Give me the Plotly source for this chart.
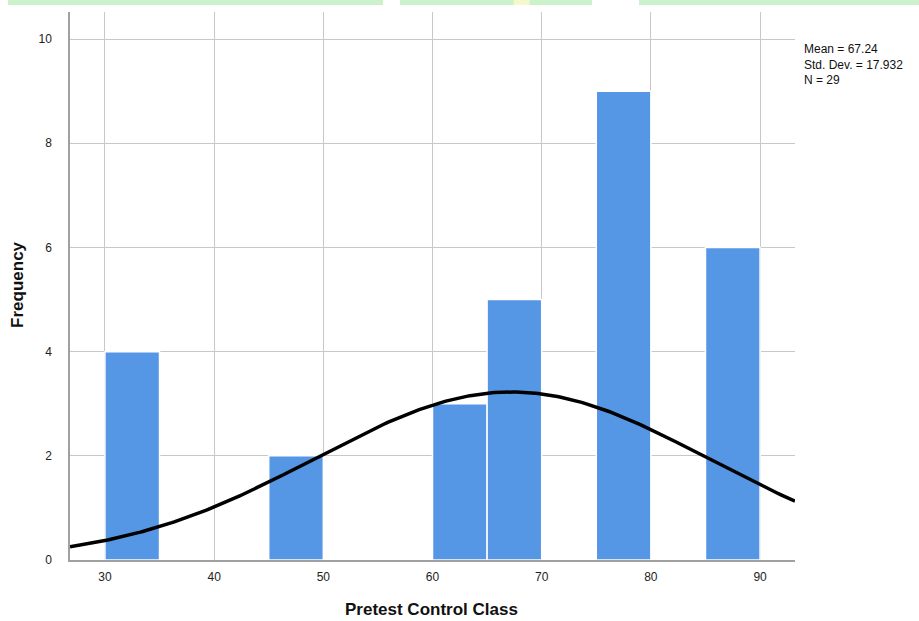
import numpy as np
import plotly.graph_objects as go

# Data
bin_starts = [30, 45, 60, 65, 75, 85]
counts = [4, 2, 3, 5, 9, 6]
bin_width = 5
mean_val = 67.24
sd_val = 17.932
n_val = 29
x_ticks = [30, 40, 50, 60, 70, 80, 90]
y_ticks = [0, 2, 4, 6, 8, 10]

centers = [s + bin_width / 2 for s in bin_starts]

# Normal curve implied by the displayed statistics
xs = np.linspace(26.8, 93.2, 300)
ys = n_val * bin_width / (sd_val * np.sqrt(2 * np.pi)) * np.exp(-0.5 * ((xs - mean_val) / sd_val) ** 2)

fig = go.Figure()
fig.add_trace(go.Bar(
    x=centers, y=counts, width=bin_width,
    marker=dict(color="#5596E5", line=dict(color="white", width=1.5)),
    hoverinfo="skip",
))
fig.add_trace(go.Scatter(
    x=xs, y=ys, mode="lines", line=dict(color="black", width=3.5), hoverinfo="skip",
))

green = "#CCF2CC"
strip = [(-0.0855, 0.4317), (0.4552, 0.72), (0.7848, 1.171)]
shapes = [dict(type="rect", xref="paper", yref="paper", x0=a, x1=b, y0=1.0128, y1=1.0225,
               fillcolor=green, line=dict(width=0)) for a, b in strip]
shapes.append(dict(type="rect", xref="paper", yref="paper", x0=0.612, x1=0.634, y0=1.0128, y1=1.0225,
                   fillcolor="#F4F8CC", line=dict(width=0)))

fig.update_layout(
    width=919, height=621,
    margin=dict(l=70, r=124, t=12, b=61),
    plot_bgcolor="white", paper_bgcolor="white",
    showlegend=False,
    font=dict(family="Liberation Sans, Arial, sans-serif", color="#222222", size=12),
    xaxis=dict(
        range=[26.8, 93.2], tickvals=x_ticks, showgrid=True, gridcolor="#C8C8C8", gridwidth=1,
        zeroline=False, showline=True, linecolor="#A0A0A0", linewidth=1.5, automargin=False,
        ticks="", tickfont=dict(size=12, color="#222222"), ticklabelstandoff=5,
    ),
    yaxis=dict(
        range=[0, 10.52], tickvals=y_ticks, showgrid=True, gridcolor="#C8C8C8", gridwidth=1,
        zeroline=False, showline=True, linecolor="#A0A0A0", linewidth=1.5, automargin=False,
        ticks="", tickfont=dict(size=12, color="#222222"), ticklabelstandoff=14,
    ),
    annotations=[
        dict(xref="paper", yref="paper", x=1.0, y=0.948, xanchor="left", yanchor="top", xshift=7,
             text=f"Mean = {mean_val}<br>Std. Dev. = {sd_val}<br>N = {n_val}",
             showarrow=False, align="left", font=dict(size=12, color="#111111")),
        dict(xref="paper", yref="paper", x=0.499, y=-0.0912, xanchor="center", yanchor="middle",
             text="<b>Pretest Control Class</b>", showarrow=False,
             font=dict(size=17, color="#111111")),
        dict(xref="paper", yref="paper", x=-0.0717, y=0.502, xanchor="center", yanchor="middle",
             text="<b>Frequency</b>", textangle=-90, showarrow=False,
             font=dict(size=17, color="#111111")),
    ],
    shapes=shapes,
)

fig.write_html("out.html", config={"displayModeBar": False},
               post_script="document.body.style.margin='0';")
